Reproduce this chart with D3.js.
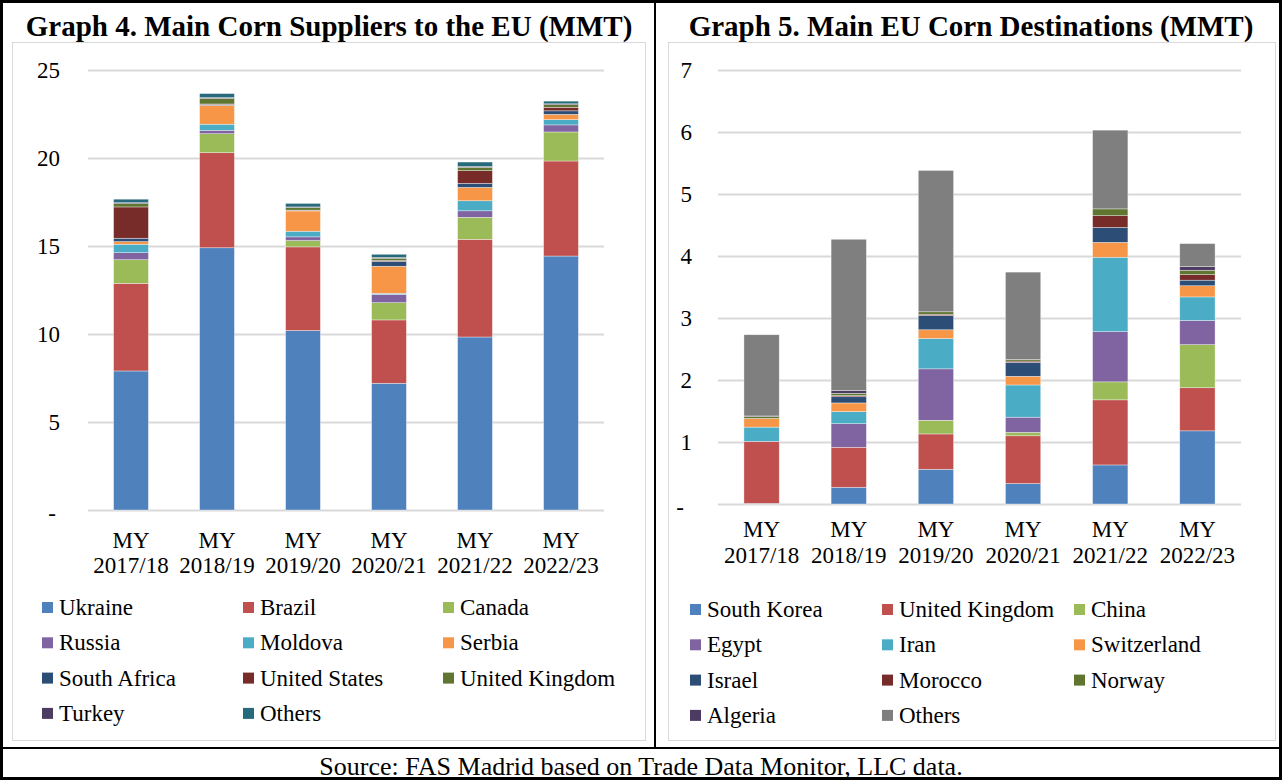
<!DOCTYPE html>
<html>
<head>
<meta charset="utf-8">
<script src="https://cdn.jsdelivr.net/npm/d3@7"></script>
<style>
html,body{margin:0;padding:0;background:#fff;}
svg text{font-family:"Liberation Serif","Times New Roman",serif;fill:#000;}
</style>
</head>
<body>
<svg id="c" width="1282" height="780"></svg>
<script>
const years = ["MY 2017/18","MY 2018/19","MY 2019/20","MY 2020/21","MY 2021/22","MY 2022/23"];

// Graph 4: suppliers (MMT)
const supplierNames = ["Ukraine","Brazil","Canada","Russia","Moldova","Serbia","South Africa","United States","United Kingdom","Turkey","Others"];
const ukraine      = [7.90, 14.90, 10.20, 7.20, 9.83, 14.43];
const brazil       = [4.98, 5.40, 4.75, 3.60, 5.55, 5.40];
const canada       = [1.34, 1.08, 0.36, 0.98, 1.25, 1.65];
const russia       = [0.40, 0.19, 0.21, 0.47, 0.37, 0.40];
const moldova      = [0.48, 0.35, 0.32, 0.06, 0.57, 0.30];
const serbia       = [0.15, 1.07, 1.15, 1.54, 0.76, 0.30];
const southAfrica  = [0.19, 0.05, 0.03, 0.28, 0.23, 0.20];
const unitedStates = [1.78, 0.03, 0.02, 0.05, 0.72, 0.20];
const ukSupplier   = [0.19, 0.32, 0.15, 0.12, 0.19, 0.15];
const turkey       = [0.05, 0.05, 0.03, 0.05, 0.05, 0.05];
const othersSup    = [0.20, 0.22, 0.20, 0.18, 0.25, 0.15];
const supplierSeries = [ukraine, brazil, canada, russia, moldova, serbia, southAfrica, unitedStates, ukSupplier, turkey, othersSup];
const leftTicks = [0,5,10,15,20,25];

// Graph 5: destinations (MMT)
const destNames = ["South Korea","United Kingdom","China","Egypt","Iran","Switzerland","Israel","Morocco","Norway","Algeria","Others"];
const southKorea  = [0.01, 0.27, 0.56, 0.33, 0.63, 1.18];
const ukDest      = [1.00, 0.645, 0.57, 0.77, 1.05, 0.695];
const china       = [0.00, 0.00, 0.22, 0.055, 0.29, 0.695];
const egypt       = [0.00, 0.38, 0.83, 0.245, 0.81, 0.39];
const iran        = [0.23, 0.195, 0.49, 0.52, 1.20, 0.38];
const switzerland = [0.14, 0.14, 0.14, 0.14, 0.24, 0.18];
const israel      = [0.00, 0.10, 0.23, 0.225, 0.24, 0.09];
const morocco     = [0.00, 0.02, 0.02, 0.02, 0.19, 0.09];
const norway      = [0.03, 0.035, 0.04, 0.025, 0.11, 0.07];
const algeria     = [0.01, 0.045, 0.00, 0.00, 0.00, 0.06];
const othersDest  = [1.31, 2.44, 2.28, 1.41, 1.27, 0.37];
const destSeries = [southKorea, ukDest, china, egypt, iran, switzerland, israel, morocco, norway, algeria, othersDest];
const rightTicks = [0,1,2,3,4,5,6,7];

const palette = ["#4F81BD","#C0504D","#9BBB59","#8064A2","#4BACC6","#F79646","#2C4D75","#772C2A","#5F7530","#4D3B62"];
const supplierColors = palette.concat(["#276A7C"]);
const destColors = palette.concat(["#7F7F7F"]);

const svg = d3.select("#c");

// frame
svg.append("rect").attr("x",1.5).attr("y",1.5).attr("width",1279).attr("height",777)
  .attr("fill","none").attr("stroke","#000").attr("stroke-width",3);
svg.append("line").attr("x1",655).attr("x2",655).attr("y1",2).attr("y2",748).attr("stroke","#000").attr("stroke-width",2);
svg.append("line").attr("x1",2).attr("x2",1280).attr("y1",748).attr("y2",748).attr("stroke","#000").attr("stroke-width",2);

svg.append("text").attr("x",641).attr("y",775).attr("text-anchor","middle")
  .style("font-size","26px").text("Source: FAS Madrid based on Trade Data Monitor, LLC data.");

function drawChart(cfg){
  const g = svg.append("g");
  g.append("text").attr("x",cfg.titleX).attr("y",36).attr("text-anchor","middle")
    .style("font-size","29px").style("font-weight","bold").text(cfg.title);
  g.append("rect").attr("x",cfg.box[0]+0.5).attr("y",cfg.box[1]+0.5).attr("width",cfg.box[2]).attr("height",cfg.box[3])
    .attr("fill","#fff").attr("stroke","#D9D9D9").attr("stroke-width",1);

  const x = d3.scaleBand().domain(years).range(cfg.xRange).paddingInner(0.595).paddingOuter(0.2975);
  const y = d3.scaleLinear().domain([0, cfg.ticks[cfg.ticks.length-1]]).range(cfg.yRange);

  // grid
  const yAxis = d3.axisLeft(y).tickValues(cfg.ticks).tickSize(-(cfg.xRange[1]-cfg.xRange[0]))
    .tickFormat(d => d===0 ? "-" : d3.format("d")(d)).tickPadding(cfg.tickPad);
  const ya = g.append("g").attr("transform",`translate(${cfg.xRange[0]},0)`).call(yAxis);
  ya.select(".domain").remove();
  ya.selectAll(".tick line").attr("stroke","#D9D9D9").attr("stroke-width",2);
  ya.selectAll(".tick text").style("font-size","23px").style("font-family","'Liberation Serif','Times New Roman',serif")
    .attr("dx", d => d===0 ? cfg.dashDx : 0)
    .attr("dy", d => d===0 ? "0.45em" : "0.32em");

  // stacked bars
  const rows = years.map((yr,i)=>{ const o={year:yr}; cfg.names.forEach((n,k)=>o[n]=cfg.series[k][i]); return o; });
  const stack = d3.stack().keys(cfg.names)(rows);
  g.selectAll("g.layer").data(stack).join("g").attr("class","layer")
    .attr("fill",(d,i)=>cfg.colors[i])
    .selectAll("rect").data(d=>d).join("rect")
    .attr("x",d=>x(d.data.year)).attr("width",x.bandwidth())
    .attr("y",d=>y(d[1])).attr("height",d=>Math.max(0,y(d[0])-y(d[1])))
    .attr("stroke","#fff").attr("stroke-opacity",0.6).attr("stroke-width",0.6);

  // x labels
  const xl = g.append("g");
  years.forEach(yr=>{
    const parts = yr.split(" ");
    const cx = x(yr)+x.bandwidth()/2;
    xl.append("text").attr("x",cx).attr("y",cfg.yRange[0]+cfg.xlab[0]).attr("text-anchor","middle").style("font-size","23px").text(parts[0]);
    xl.append("text").attr("x",cx).attr("y",cfg.yRange[0]+cfg.xlab[1]).attr("text-anchor","middle").style("font-size","23px").text(parts[1]);
  });

  // legend
  const lg = g.append("g");
  cfg.names.forEach((n,k)=>{
    const col = k%3, row = Math.floor(k/3);
    const lx = cfg.legX[col], ly = cfg.legY + row*35.3;
    lg.append("rect").attr("x",lx).attr("y",ly-5).attr("width",11).attr("height",11).attr("fill",cfg.colors[k]);
    lg.append("text").attr("x",lx+17).attr("y",ly+8).style("font-size","23px").text(n);
  });
}

drawChart({
  title:"Graph 4. Main Corn Suppliers to the EU (MMT)", titleX:329,
  box:[12,42,633,698], xRange:[88,604], yRange:[510,70], ticks:leftTicks,
  names:supplierNames, series:supplierSeries, colors:supplierColors,
  tickPad:28, dashDx:-4, xlab:[38,63],
  legX:[42,243,443], legY:607
});
drawChart({
  title:"Graph 5. Main EU Corn Destinations (MMT)", titleX:971,
  box:[668,42,607,698], xRange:[718,1241], yRange:[504,70], ticks:rightTicks,
  names:destNames, series:destSeries, colors:destColors,
  tickPad:26, dashDx:-8, xlab:[33,59],
  legX:[690,882,1074], legY:609
});
</script>
</body>
</html>
